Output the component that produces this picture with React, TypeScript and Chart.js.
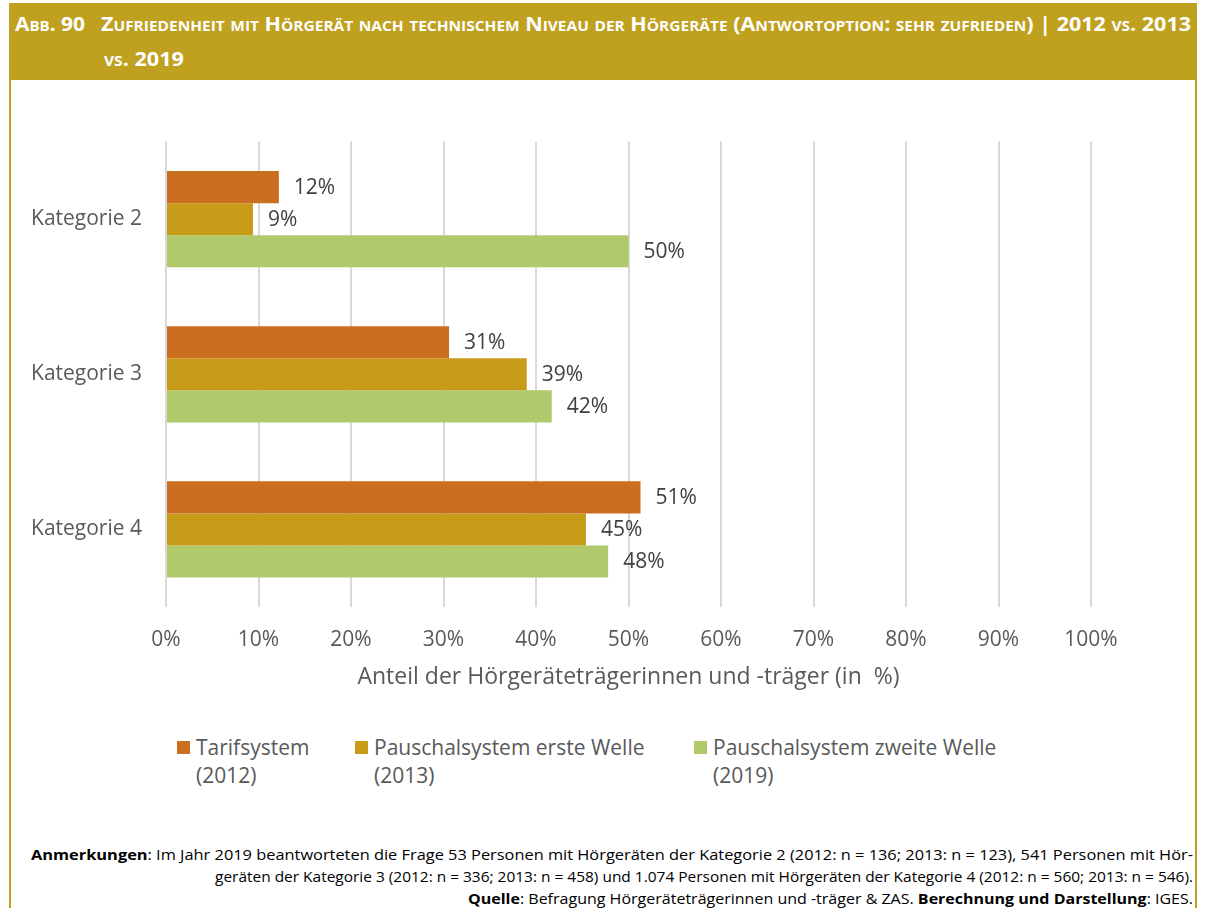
import React, { useEffect, useRef } from "react";
import { Chart, registerables } from "chart.js";

Chart.register(...registerables);

// ---- data ----
const categories = ["Kategorie 2", "Kategorie 3", "Kategorie 4"];
const seriesNames = [
  ["Tarifsystem", "(2012)"],
  ["Pauschalsystem erste Welle", "(2013)"],
  ["Pauschalsystem zweite Welle", "(2019)"],
];
const tarifsystem2012 = [12.2, 30.6, 51.3];
const pauschalErste2013 = [9.4, 39.0, 45.4];
const pauschalZweite2019 = [50.0, 41.7, 47.8];
const xTickValues = [0, 10, 20, 30, 40, 50, 60, 70, 80, 90, 100];
const axisTitle = "Anteil der Hörgeräteträgerinnen und -träger (in  %)";

const seriesColors = ["#C96F1F", "#C89B19", "#B0C96B"];
const GOLD = "#C0A01F";
const FONT = "'Open Sans', 'DejaVu Sans', sans-serif";

const valueLabelPlugin = {
  id: "valueLabels",
  afterDatasetsDraw(chart: any) {
    const ctx = chart.ctx;
    ctx.save();
    ctx.font = `21px ${FONT}`;
    ctx.fillStyle = "#404040";
    ctx.textAlign = "left";
    ctx.textBaseline = "middle";
    chart.data.datasets.forEach((ds: any, i: number) => {
      const meta = chart.getDatasetMeta(i);
      meta.data.forEach((el: any, j: number) => {
        const v = ds.data[j];
        ctx.fillText(`${Math.round(v)}%`, el.x + 15, el.y + 1);
      });
    });
    ctx.restore();
  },
};

function ChartCanvas() {
  const ref = useRef<HTMLCanvasElement | null>(null);
  useEffect(() => {
    if (!ref.current) return;
    const dataSeries = [tarifsystem2012, pauschalErste2013, pauschalZweite2019];
    const chart = new Chart(ref.current, {
      type: "bar",
      data: {
        labels: categories,
        datasets: dataSeries.map((d, i) => ({
          label: seriesNames[i].join(" "),
          data: d,
          backgroundColor: seriesColors[i],
          borderWidth: 0,
          barPercentage: 1.0,
          categoryPercentage: 0.62,
        })),
      },
      options: {
        indexAxis: "y",
        animation: false,
        responsive: false,
        maintainAspectRatio: false,
        layout: { padding: { top: 0, right: 116, bottom: 0, left: 0 } },
        plugins: {
          legend: { display: false },
          tooltip: { enabled: false },
          title: { display: false },
        },
        scales: {
          x: {
            type: "linear",
            min: 0,
            max: 100,
            afterBuildTicks: (scale: any) => {
              scale.ticks = xTickValues.map((v) => ({ value: v }));
            },
            afterFit: (scale: any) => {
              scale.height = 98;
            },
            ticks: {
              callback: (v: any) => `${v}%`,
              font: { family: FONT, size: 21 },
              color: "#595959",
              padding: 20,
            },
            grid: { color: "#D9D9D9", lineWidth: 2, drawTicks: false },
            border: { display: false },
            title: {
              display: true,
              text: axisTitle,
              font: { family: FONT, size: 23 },
              color: "#595959",
              padding: { top: 0, bottom: 14 },
            },
          },
          y: {
            afterFit: (scale: any) => {
              scale.width = 166;
            },
            ticks: {
              font: { family: FONT, size: 21 },
              color: "#595959",
              padding: 24,
            },
            grid: { display: false, drawTicks: false },
            border: { display: false },
          },
        },
      },
      plugins: [valueLabelPlugin],
    } as any);
    return () => chart.destroy();
  }, []);
  return (
    <canvas
      ref={ref}
      width={1207}
      height={600}
      style={{ position: "absolute", left: 0, top: 105, width: 1207, height: 600 }}
    />
  );
}

export default function App() {
  const legendX = [177, 355, 694];
  return (
    <div style={{ position: "absolute", left: 0, top: 0, width: 1207, height: 908, background: "#fff", overflow: "hidden" }}>
      <svg width={1207} height={908} style={{ position: "absolute", left: 0, top: 0 }}>
        {/* header band and frame */}
        <rect x={9} y={3} width={1188} height={77} fill={GOLD} />
        <rect x={9} y={80} width={2} height={828} fill={GOLD} />
        <rect x={1195} y={80} width={2} height={828} fill={GOLD} />
        <g fill="#fff" fontFamily={FONT} fontWeight="bold" fontSize={19.5} style={{ fontVariant: "small-caps" }}>
          <text x={15} y={30.5} textLength={70} lengthAdjust="spacingAndGlyphs">Abb. 90</text>
          <text x={101} y={30.5} textLength={1090} lengthAdjust="spacingAndGlyphs">
            Zufriedenheit mit Hörgerät nach technischem Niveau der Hörgeräte (Antwortoption: sehr zufrieden) | 2012 vs. 2013
          </text>
          <text x={104} y={65.5} textLength={80} lengthAdjust="spacingAndGlyphs">vs. 2019</text>
        </g>
        {/* legend */}
        <g fontFamily={FONT} fontSize={21} fill="#595959">
          {seriesNames.map((name, i) => (
            <g key={i}>
              <rect x={legendX[i]} y={741} width={13} height={13} fill={seriesColors[i]} />
              <text x={legendX[i] + 19} y={754.5}>{name[0]}</text>
              <text x={legendX[i] + 19} y={782.5}>{name[1]}</text>
            </g>
          ))}
        </g>
        {/* footnotes */}
        <g fontFamily={FONT} fontSize={14} fill="#000">
          <text x={31} y={860} textLength={1162} lengthAdjust="spacingAndGlyphs">
            <tspan fontWeight="bold">Anmerkungen</tspan>: Im Jahr 2019 beantworteten die Frage 53 Personen mit Hörgeräten der Kategorie 2 (2012: n = 136; 2013: n = 123), 541 Personen mit Hör-
          </text>
          <text x={215} y={882} textLength={978} lengthAdjust="spacingAndGlyphs">
            geräten der Kategorie 3 (2012: n = 336; 2013: n = 458) und 1.074 Personen mit Hörgeräten der Kategorie 4 (2012: n = 560; 2013: n = 546).
          </text>
          <text x={468} y={904} textLength={725} lengthAdjust="spacingAndGlyphs">
            <tspan fontWeight="bold">Quelle</tspan>: Befragung Hörgeräteträgerinnen und -träger &amp; ZAS. <tspan fontWeight="bold">Berechnung und Darstellung</tspan>: IGES.
          </text>
        </g>
      </svg>
      <ChartCanvas />
    </div>
  );
}
